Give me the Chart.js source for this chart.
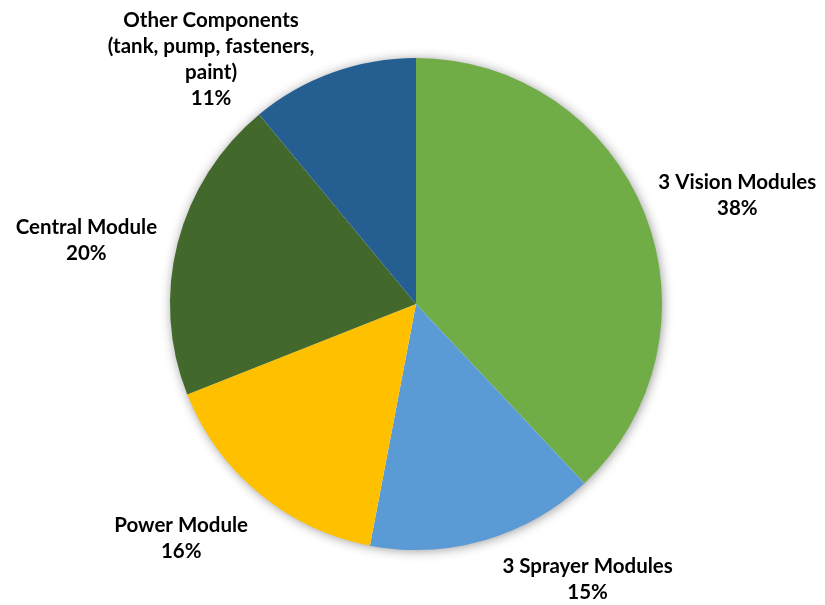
<!DOCTYPE html>
<html>
<head>
<meta charset="utf-8">
<script src="https://cdn.jsdelivr.net/npm/chart.js@4/dist/chart.umd.min.js"></script>
<style>
  html, body { margin: 0; padding: 0; background: #ffffff; }
  #wrap { width: 825px; height: 605px; position: relative; }
</style>
</head>
<body>
<div id="wrap"><canvas id="chart" width="825" height="605"></canvas></div>
<script>
// Cost breakdown of the system by component group
const categories = [
  '3 Vision Modules',
  '3 Sprayer Modules',
  'Power Module',
  'Central Module',
  'Other Components (tank, pump, fasteners, paint)'
];
const labelLines = [
  ['3 Vision Modules'],
  ['3 Sprayer Modules'],
  ['Power Module'],
  ['Central Module'],
  ['Other Components', '(tank, pump, fasteners,', 'paint)']
];
const shares = [38, 15, 16, 20, 11];
const colors = ['#70AD47', '#5B9BD5', '#FFC000', '#43682B', '#255E91'];

// Label placement around the pie: direction (degrees clockwise from 12 o'clock)
// and distance from the centre in multiples of the radius.
const labelPlacement = [
  { angle: 71.4, dist: 1.378 },
  { angle: 148.1, dist: 1.32 },
  { angle: 225.0, dist: 1.35 },
  { angle: 281.0, dist: 1.365 },
  { angle: 320.0, dist: 1.296 }
];

// Soft shadow behind the whole pie
const pieShadow = {
  id: 'pieShadow',
  beforeDatasetsDraw(chart) {
    const arc = chart.getDatasetMeta(0).data[0];
    if (!arc) return;
    const { x, y, outerRadius } = arc.getProps(['x', 'y', 'outerRadius'], true);
    const ctx = chart.ctx;
    ctx.save();
    ctx.shadowColor = 'rgba(0,0,0,0.45)';
    ctx.shadowBlur = 12;
    ctx.shadowOffsetX = 1;
    ctx.shadowOffsetY = 1;
    ctx.fillStyle = '#ffffff';
    ctx.beginPath();
    ctx.arc(x, y, outerRadius - 1, 0, Math.PI * 2);
    ctx.fill();
    ctx.restore();
  }
};

// Category name and percentage drawn outside each slice
const outsideLabels = {
  id: 'outsideLabels',
  afterDatasetsDraw(chart) {
    const meta = chart.getDatasetMeta(0);
    const ctx = chart.ctx;
    const total = shares.reduce((a, b) => a + b, 0);
    const lineH = 26;
    ctx.save();
    ctx.font = 'bold 20.5px Lato, "Open Sans", sans-serif';
    ctx.fillStyle = '#000000';
    ctx.textAlign = 'center';
    ctx.textBaseline = 'middle';
    meta.data.forEach((arc, i) => {
      const { x, y, outerRadius } = arc.getProps(['x', 'y', 'outerRadius'], true);
      const p = labelPlacement[i];
      const a = p.angle * Math.PI / 180;
      const cx = x + Math.sin(a) * outerRadius * p.dist;
      const cy = y - Math.cos(a) * outerRadius * p.dist;
      const lines = labelLines[i].concat([Math.round(shares[i] / total * 100) + '%']);
      const top = cy - (lines.length - 1) * lineH / 2;
      lines.forEach((t, k) => ctx.fillText(t, cx, top + k * lineH));
    });
    ctx.restore();
  }
};

new Chart(document.getElementById('chart'), {
  type: 'pie',
  data: {
    labels: categories,
    datasets: [{
      data: shares,
      backgroundColor: colors,
      borderWidth: 0,
      hoverOffset: 0
    }]
  },
  options: {
    responsive: false,
    animation: false,
    rotation: 0,
    layout: { padding: { top: 58, bottom: 55, left: 170, right: 163 } },
    plugins: {
      legend: { display: false },
      tooltip: { enabled: false },
      title: { display: false }
    }
  },
  plugins: [pieShadow, outsideLabels]
});
</script>
</body>
</html>
